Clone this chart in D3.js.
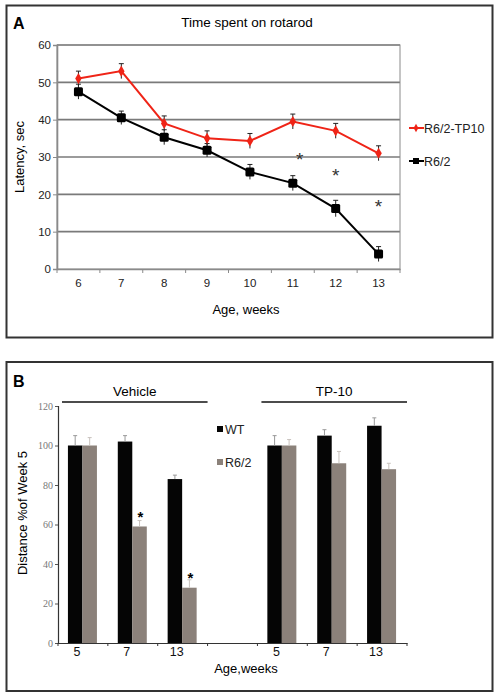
<!DOCTYPE html>
<html><head><meta charset="utf-8">
<script src="https://cdn.jsdelivr.net/npm/d3@7"></script>
<style>body{margin:0;background:#fff}svg{display:block;font-family:"Liberation Sans",Arial,sans-serif}</style>
</head><body>
<svg id="c" width="498" height="697"></svg>
<script>
// Panel A data
const weeksA = ["6","7","8","9","10","11","12","13"];
const tp10 = [51, 53, 39, 35, 34.3, 39.5, 37, 31];
const tp10Err = [2, 2, 2, 2, 2, 2, 2, 2];
const r62 = [47.5, 40.5, 35.3, 31.8, 26, 23, 16.2, 4];
const r62Err = [2, 1.8, 2, 1.8, 2, 2, 2.2, 2];
const starsA = [{w:"11", v:30.2}, {w:"12", v:26}, {w:"13", v:17.6}];
const yTicksA = [0,10,20,30,40,50,60];

// Panel B data
const categoriesB = ["V5","V7","V13","gap","T5","T7","T13"];
const tickLabelsB = ["5","7","13","","5","7","13"];
const wtVals = [100, 102, 83, null, 100, 105, 110];
const wtErr = [5, 3, 2, null, 5, 3, 4];
const r6Vals = [100, 59, 28, null, 100, 91, 88];
const r6Err = [4, 3, 4, null, 3, 6, 3];
const yTicksB = [0,20,40,60,80,100,120];

const svg = d3.select("#c");

// ---------- Panel A ----------
svg.append("rect").attr("x",6.5).attr("y",5.5).attr("width",486).attr("height",332)
  .attr("fill","none").attr("stroke","#333").attr("stroke-width",2);
svg.append("text").attr("x",13).attr("y",29).attr("font-size",16).attr("font-weight","bold").text("A");
svg.append("text").attr("x",247).attr("y",27).attr("text-anchor","middle").attr("font-size",13.5).text("Time spent on rotarod");

const xA = d3.scaleBand().domain(weeksA).range([57,400]);
const yA = d3.scaleLinear().domain([0,60]).range([269,45]);

const gA = svg.append("g");
gA.selectAll("line.grid").data(yTicksA.filter(d=>d>0)).join("line")
  .attr("x1",57).attr("x2",400).attr("y1",d=>yA(d)).attr("y2",d=>yA(d))
  .attr("stroke","#7a7a7a").attr("stroke-width",1.6);
gA.append("rect").attr("x",57).attr("y",45).attr("width",343).attr("height",224)
  .attr("fill","none").attr("stroke","#8a8a8a").attr("stroke-width",1);
const axA = d3.axisBottom(xA).tickSize(0).tickPadding(10);
const gx = gA.append("g").attr("transform","translate(0,269)").call(axA);
gx.select(".domain").attr("stroke","#8a8a8a").attr("stroke-width",1.6);
gx.selectAll("text").attr("font-size",11.5).attr("fill","#222").attr("font-family","Liberation Sans, Arial, sans-serif");
gA.selectAll("line.bt").data(weeksA.concat(["end"])).join("line")
  .attr("x1",(d,i)=>57+i*xA.step()).attr("x2",(d,i)=>57+i*xA.step())
  .attr("y1",269).attr("y2",273).attr("stroke","#8a8a8a");
const ayA = d3.axisLeft(yA).tickValues(yTicksA).tickSize(4).tickPadding(2);
const gy = gA.append("g").attr("transform","translate(57,0)").call(ayA);
gy.select(".domain").attr("stroke","#8a8a8a").attr("stroke-width",1.6);
gy.selectAll(".tick line").attr("stroke","#8a8a8a");
gy.selectAll("text").attr("font-size",11.5).attr("fill","#222").attr("font-family","Liberation Sans, Arial, sans-serif");

svg.append("text").attr("transform","translate(24,157) rotate(-90)").attr("text-anchor","middle")
  .attr("font-size",13).text("Latency, sec");
svg.append("text").attr("x",246).attr("y",314).attr("text-anchor","middle").attr("font-size",13).text("Age, weeks");

const cx = d => xA(d) + xA.bandwidth()/2;
const line = d3.line().x((d,i)=>cx(weeksA[i])).y(d=>yA(d));

function series(vals, errs, color, marker){
  const g = gA.append("g");
  g.append("path").datum(vals).attr("d",line).attr("fill","none").attr("stroke",color).attr("stroke-width",2);
  g.selectAll("line.e").data(vals).join("line")
    .attr("x1",(d,i)=>cx(weeksA[i])).attr("x2",(d,i)=>cx(weeksA[i]))
    .attr("y1",(d,i)=>yA(d+errs[i])).attr("y2",(d,i)=>yA(d-errs[i]))
    .attr("stroke","#222").attr("stroke-width",1);
  g.selectAll("line.c").data(vals).join("line")
    .attr("x1",(d,i)=>cx(weeksA[i])-2.5).attr("x2",(d,i)=>cx(weeksA[i])+2.5)
    .attr("y1",(d,i)=>yA(d+errs[i])).attr("y2",(d,i)=>yA(d+errs[i]))
    .attr("stroke","#222").attr("stroke-width",1);
  if(marker==="square"){
    g.selectAll("rect").data(vals).join("rect")
      .attr("x",(d,i)=>cx(weeksA[i])-4.5).attr("y",d=>yA(d)-4.5).attr("width",9).attr("height",9)
      .attr("rx",1.5).attr("fill",color);
  } else {
    g.selectAll("path.m").data(vals).join("path")
      .attr("d",d3.symbol(d3.symbolDiamond, 36)())
      .attr("transform",(d,i)=>`translate(${cx(weeksA[i])},${yA(d)})`).attr("fill",color);
  }
}
series(r62, r62Err, "#000", "square");
series(tp10, tp10Err, "#ef2417", "diamond");

gA.selectAll("text.star").data(starsA).join("text")
  .attr("x",d=>cx(d.w)+ (d.w==="11"?7:0)).attr("y",d=>yA(d.v)+10).attr("text-anchor","middle")
  .attr("font-size",19).attr("fill","#333").text("*");

const legA = [{t:"R6/2-TP10", c:"#ef2417", y:128, m:"diamond"},{t:"R6/2", c:"#000", y:161, m:"square"}];
legA.forEach(l=>{
  svg.append("line").attr("x1",409).attr("x2",424).attr("y1",l.y).attr("y2",l.y).attr("stroke",l.c).attr("stroke-width",2);
  if(l.m==="square") svg.append("rect").attr("x",413).attr("y",l.y-3).attr("width",6).attr("height",6).attr("fill",l.c);
  else svg.append("path").attr("d",d3.symbol(d3.symbolDiamond,20)()).attr("transform",`translate(416,${l.y})`).attr("fill",l.c);
  svg.append("text").attr("x",424).attr("y",l.y+4.5).attr("font-size",12.5).attr("fill","#222").text(l.t);
});

// ---------- Panel B ----------
svg.append("rect").attr("x",6.5).attr("y",362).attr("width",486).attr("height",329)
  .attr("fill","none").attr("stroke","#333").attr("stroke-width",2);
svg.append("text").attr("x",13).attr("y",387).attr("font-size",16).attr("font-weight","bold").text("B");

const xB = d3.scaleBand().domain(categoriesB).range([58,407]);
const yB = d3.scaleLinear().domain([0,120]).range([643,406]);
const inner = d3.scaleBand().domain(["wt","r6"]).range([0,29]);
const gB = svg.append("g");
const off = xB.bandwidth()/2 - 14.5 - 0.5;

const ayB = d3.axisLeft(yB).tickValues(yTicksB).tickSize(3).tickPadding(2);
const gyB = gB.append("g").attr("transform","translate(58,0)").call(ayB);
gyB.select(".domain").attr("stroke","#333").attr("stroke-width",1.2);
gyB.selectAll(".tick line").attr("stroke","#555");
gyB.selectAll("text").attr("font-size",10).attr("fill","#777").attr("font-family","Liberation Serif, Times New Roman, serif");
const axB = d3.axisBottom(xB).tickSize(0).tickPadding(4).tickFormat((d,i)=>tickLabelsB[i]);
const gxB = gB.append("g").attr("transform","translate(0,643)").call(axB);
gxB.select(".domain").attr("stroke","#333").attr("stroke-width",1.2);
gxB.selectAll("text").attr("font-size",12.5).attr("fill","#111").attr("dx",-6).attr("font-family","Liberation Sans, Arial, sans-serif");
gB.selectAll("line.bt").data(d3.range(categoriesB.length+1)).join("line")
  .attr("x1",i=>58+i*xB.step()).attr("x2",i=>58+i*xB.step()).attr("y1",643).attr("y2",646).attr("stroke","#333");

function bars(vals, errs, key, color, errColor){
  const idx = vals.map((v,i)=>i).filter(i=>vals[i]!==null);
  gB.selectAll("rect."+key).data(idx).join("rect")
    .attr("x",i=>xB(categoriesB[i])+off+inner(key)).attr("width",inner.bandwidth())
    .attr("y",i=>yB(vals[i])).attr("height",i=>yB(0)-yB(vals[i])).attr("fill",color);
  gB.selectAll("line.e"+key).data(idx).join("line")
    .attr("x1",i=>xB(categoriesB[i])+off+inner(key)+inner.bandwidth()/2)
    .attr("x2",i=>xB(categoriesB[i])+off+inner(key)+inner.bandwidth()/2)
    .attr("y1",i=>yB(vals[i])).attr("y2",i=>yB(vals[i]+errs[i])).attr("stroke",errColor).attr("stroke-width",1);
  gB.selectAll("line.c"+key).data(idx).join("line")
    .attr("x1",i=>xB(categoriesB[i])+off+inner(key)+inner.bandwidth()/2-2)
    .attr("x2",i=>xB(categoriesB[i])+off+inner(key)+inner.bandwidth()/2+2)
    .attr("y1",i=>yB(vals[i]+errs[i])).attr("y2",i=>yB(vals[i]+errs[i])).attr("stroke",errColor).attr("stroke-width",1);
}
bars(wtVals, wtErr, "wt", "#050505", "#999");
bars(r6Vals, r6Err, "r6", "#8b817a", "#c8c2bd");

const groups = [{t:"Vehicle", a:"V5", b:"V13"},{t:"TP-10", a:"T5", b:"T13"}];
groups.forEach(gp=>{
  const x1 = xB(gp.a)+4, x2 = xB(gp.b)+xB.bandwidth()-0;
  svg.append("line").attr("x1",x1).attr("x2",x2).attr("y1",402).attr("y2",402).attr("stroke","#111").attr("stroke-width",1.5);
  svg.append("text").attr("x",(x1+x2)/2).attr("y",396).attr("text-anchor","middle").attr("font-size",13.5).text(gp.t);
});
const starsB = [{c:"V7", v:66},{c:"V13", v:35}];
gB.selectAll("text.sb").data(starsB).join("text")
  .attr("x",d=>xB(d.c)+off+inner("r6")+inner.bandwidth()/2+1).attr("y",d=>yB(d.v)+9)
  .attr("text-anchor","middle").attr("font-size",15).attr("font-weight","bold").text("*");

[{t:"WT", c:"#050505", y:429},{t:"R6/2", c:"#8b817a", y:462}].forEach(l=>{
  svg.append("rect").attr("x",217).attr("y",l.y-3).attr("width",6).attr("height",6).attr("fill",l.c);
  svg.append("text").attr("x",225).attr("y",l.y+4.5).attr("font-size",12.5).attr("fill","#222").text(l.t);
});

svg.append("text").attr("transform","translate(27,513) rotate(-90)").attr("text-anchor","middle")
  .attr("font-size",13).text("Distance %of Week 5");
svg.append("text").attr("x",246).attr("y",673).attr("text-anchor","middle").attr("font-size",13).text("Age,weeks");
</script>
</body></html>
